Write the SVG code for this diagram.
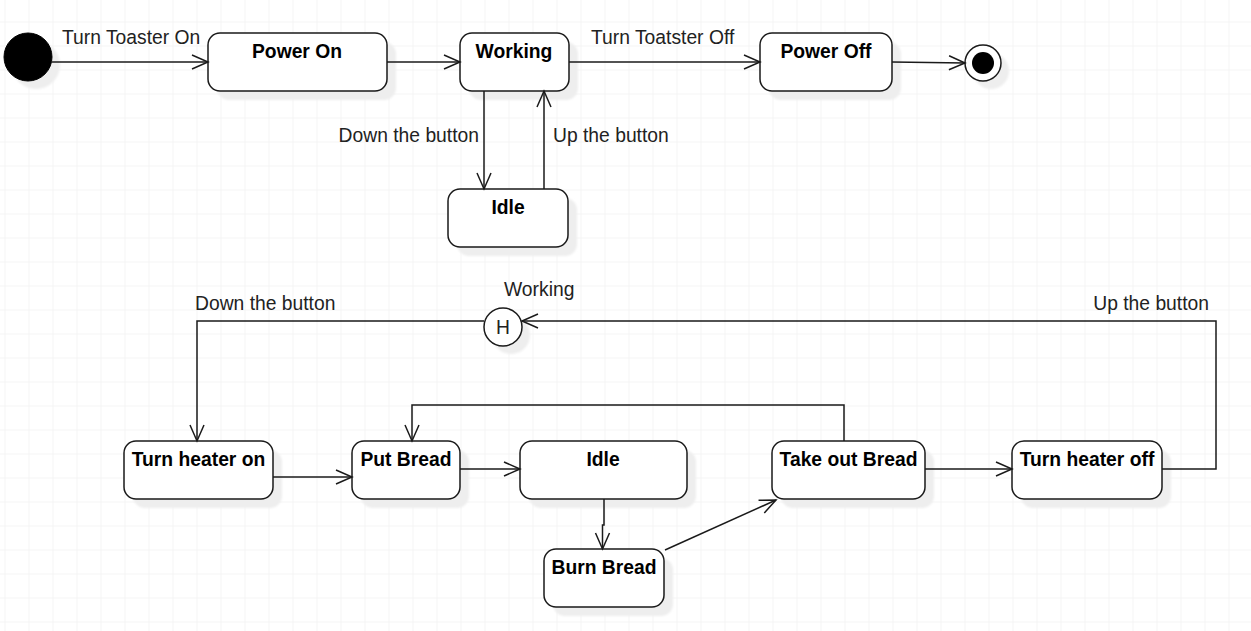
<svg xmlns="http://www.w3.org/2000/svg" width="1251" height="631" viewBox="0 0 1251 631">
  <defs>
    <pattern id="grid" x="4.5" y="21.5" width="24" height="24" patternUnits="userSpaceOnUse">
      <path d="M0,0 H24 M0,0 V24" fill="none" stroke="#ebebeb" stroke-width="1"/>
    </pattern>
    <filter id="blur" x="-20%" y="-20%" width="140%" height="140%">
      <feGaussianBlur stdDeviation="1.2"/>
    </filter>
    <marker id="arrow" markerUnits="userSpaceOnUse" markerWidth="20" markerHeight="20" refX="16" refY="8" orient="auto" overflow="visible">
      <path d="M0,1 L16,8 L0,15" fill="none" stroke="#1a1a1a" stroke-width="1.5"/>
    </marker>
  </defs>
  <style>
    .box { fill: #ffffff; stroke: #1a1a1a; stroke-width: 1.5; }
    .shadow { fill: #eeeeee; filter: url(#blur); }
    .name { font-family: "Liberation Sans", Arial, sans-serif; font-size: 19.3px; font-weight: bold; fill: #000; text-anchor: middle; }
    .lbl { font-family: "Liberation Sans", Arial, sans-serif; font-size: 19.3px; fill: #222; }
    .edge { fill: none; stroke: #1a1a1a; stroke-width: 1.5; }
  </style>

  <rect x="0" y="0" width="1251" height="631" fill="#ffffff"/>
  <rect x="0" y="0" width="1251" height="631" fill="url(#grid)"/>

  <!-- nodes -->
  <g id="initial">
    <circle class="shadow" cx="36" cy="65" r="24"/>
    <circle cx="28" cy="57" r="24" fill="#000" stroke="#000" stroke-width="1"/>
  </g>
  <g id="power-on">
    <rect class="shadow" x="217" y="42" width="179" height="58" rx="12"/>
    <rect class="box" x="208" y="33" width="179" height="58" rx="12"/>
    <text class="name" x="297" y="58">Power On</text>
  </g>
  <g id="working">
    <rect class="shadow" x="469" y="42" width="109" height="58" rx="12"/>
    <rect class="box" x="460" y="33" width="109" height="58" rx="12"/>
    <text class="name" x="514" y="58">Working</text>
  </g>
  <g id="power-off">
    <rect class="shadow" x="769" y="42" width="132" height="58" rx="12"/>
    <rect class="box" x="760" y="33" width="132" height="58" rx="12"/>
    <text class="name" x="826" y="58">Power Off</text>
  </g>
  <g id="final">
    <circle class="shadow" cx="991" cy="71" r="18"/>
    <circle cx="983" cy="63" r="18" fill="#fff" stroke="#1a1a1a" stroke-width="1.5"/>
    <circle cx="983" cy="63" r="11" fill="#000"/>
  </g>
  <g id="idle-top">
    <rect class="shadow" x="457" y="198" width="120" height="58" rx="12"/>
    <rect class="box" x="448" y="189" width="120" height="58" rx="12"/>
    <text class="name" x="508" y="214">Idle</text>
  </g>
  <g id="history">
    <circle class="shadow" cx="511" cy="335" r="19"/>
    <circle cx="503" cy="327" r="19" fill="#fff" stroke="#1a1a1a" stroke-width="1.5"/>
    <text class="lbl" x="503" y="334" text-anchor="middle">H</text>
    <text class="lbl" x="504" y="296">Working</text>
  </g>
  <g id="turn-heater-on">
    <rect class="shadow" x="133" y="450" width="149" height="58" rx="12"/>
    <rect class="box" x="124" y="441" width="149" height="58" rx="12"/>
    <text class="name" x="198.5" y="466">Turn heater on</text>
  </g>
  <g id="put-bread">
    <rect class="shadow" x="361" y="450" width="108" height="58" rx="12"/>
    <rect class="box" x="352" y="441" width="108" height="58" rx="12"/>
    <text class="name" x="406" y="466">Put Bread</text>
  </g>
  <g id="idle-bottom">
    <rect class="shadow" x="529" y="450" width="167" height="58" rx="12"/>
    <rect class="box" x="520" y="441" width="167" height="58" rx="12"/>
    <text class="name" x="603" y="466">Idle</text>
  </g>
  <g id="burn-bread">
    <rect class="shadow" x="553" y="558" width="120" height="58" rx="12"/>
    <rect class="box" x="544" y="549" width="120" height="58" rx="12"/>
    <text class="name" x="604" y="574">Burn Bread</text>
  </g>
  <g id="take-out-bread">
    <rect class="shadow" x="781" y="450" width="153" height="58" rx="12"/>
    <rect class="box" x="772" y="441" width="153" height="58" rx="12"/>
    <text class="name" x="848.5" y="466">Take out Bread</text>
  </g>
  <g id="turn-heater-off">
    <rect class="shadow" x="1021" y="450" width="150" height="58" rx="12"/>
    <rect class="box" x="1012" y="441" width="150" height="58" rx="12"/>
    <text class="name" x="1087" y="466">Turn heater off</text>
  </g>

  <!-- connectors -->
  <g id="connectors">
    <path class="edge" d="M52,62 H208" marker-end="url(#arrow)"/>
    <text class="lbl" x="62" y="44">Turn Toaster On</text>
    <path class="edge" d="M387,62 H460" marker-end="url(#arrow)"/>
    <path class="edge" d="M569,62 H760" marker-end="url(#arrow)"/>
    <text class="lbl" x="591" y="44">Turn Toatster Off</text>
    <path class="edge" d="M892,62 L965,63" marker-end="url(#arrow)"/>
    <path class="edge" d="M484,91 V189" marker-end="url(#arrow)"/>
    <text class="lbl" x="479" y="142" text-anchor="end">Down the button</text>
    <path class="edge" d="M544,189 V91" marker-end="url(#arrow)"/>
    <text class="lbl" x="553" y="142">Up the button</text>

    <path class="edge" d="M1162,469 H1216 V321 H522" marker-end="url(#arrow)"/>
    <text class="lbl" x="1209" y="310" text-anchor="end">Up the button</text>
    <path class="edge" d="M484,321 H197 V441" marker-end="url(#arrow)"/>
    <text class="lbl" x="195" y="310">Down the button</text>

    <path class="edge" d="M273,477 H352" marker-end="url(#arrow)"/>
    <path class="edge" d="M460,469 H520" marker-end="url(#arrow)"/>
    <path class="edge" d="M604,499 V525 H602.5 V549" marker-end="url(#arrow)"/>
    <path class="edge" d="M665,550 L776,500" marker-end="url(#arrow)"/>
    <path class="edge" d="M844,441 V405 H412 V441" marker-end="url(#arrow)"/>
    <path class="edge" d="M925,469 H1012" marker-end="url(#arrow)"/>
  </g>
</svg>
